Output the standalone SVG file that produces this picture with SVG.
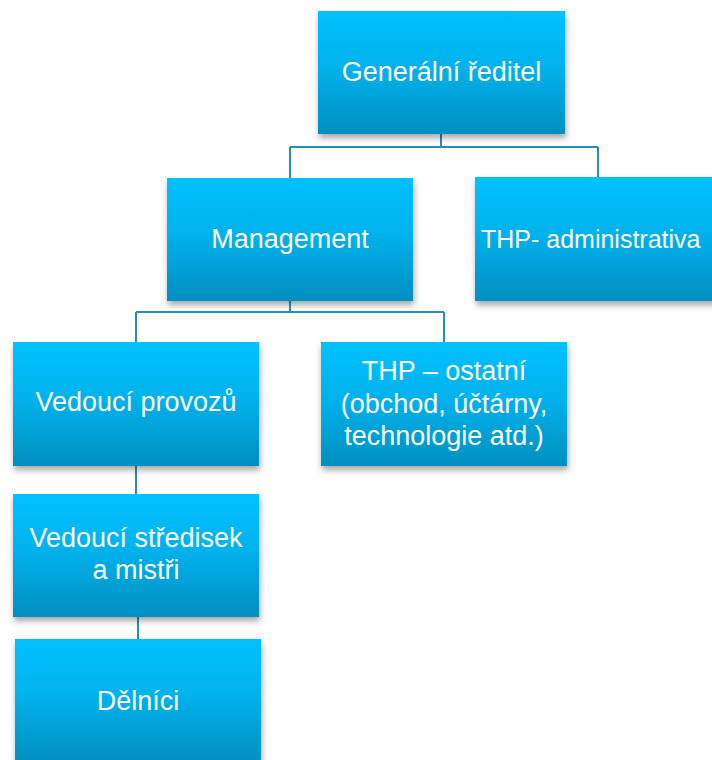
<svg xmlns="http://www.w3.org/2000/svg" width="712" height="760" viewBox="0 0 712 760">
  <defs>
    <linearGradient id="boxGrad" x1="0" y1="0" x2="0" y2="1">
      <stop offset="0" stop-color="#00C1FF"/>
      <stop offset="0.45" stop-color="#00B2EC"/>
      <stop offset="1" stop-color="#008FC0"/>
    </linearGradient>
    <filter id="shadow" x="-10%" y="-10%" width="125%" height="130%">
      <feDropShadow dx="1" dy="4" stdDeviation="3" flood-color="#000" flood-opacity="0.35"/>
    </filter>
  </defs>
  <style>
    .box { fill: url(#boxGrad); filter: url(#shadow); }
    .lbl { font-family: "Liberation Sans", Arial, sans-serif; font-size: 27px; fill: #FFFFFF; text-anchor: middle; }
    .conn { stroke: #2A8DB4; stroke-width: 2; fill: none; }
  </style>
  <rect width="712" height="760" fill="#FFFFFF"/>

  <g id="connectors">
    <path class="conn" d="M441,134 V147 M290,147 H598 M290,147 V178 M598,147 V177"/>
    <path class="conn" d="M290,301 V312 M136,312 H444 M136,312 V342 M444,312 V342"/>
    <path class="conn" d="M136,466 V494"/>
    <path class="conn" d="M138,617 V639"/>
  </g>

  <g id="generalni-reditel">
    <rect class="box" x="318" y="11" width="247" height="123"/>
    <text class="lbl" x="441.5" y="81">Generální ředitel</text>
  </g>

  <g id="management">
    <rect class="box" x="167" y="178" width="246" height="123"/>
    <text class="lbl" x="290" y="248">Management</text>
  </g>

  <g id="thp-administrativa">
    <rect class="box" x="475" y="177" width="247" height="124"/>
    <text class="lbl" x="481" y="248" style="text-anchor:start;font-size:25px">THP- administrativa</text>
  </g>

  <g id="vedouci-provozu">
    <rect class="box" x="13" y="342" width="246" height="124"/>
    <text class="lbl" x="136" y="411">Vedoucí provozů</text>
  </g>

  <g id="thp-ostatni">
    <rect class="box" x="321" y="342" width="246" height="124"/>
    <text class="lbl" x="444" y="380">THP – ostatní</text>
    <text class="lbl" x="444" y="413">(obchod, účtárny,</text>
    <text class="lbl" x="444" y="445">technologie atd.)</text>
  </g>

  <g id="vedouci-stredisek">
    <rect class="box" x="13" y="494" width="246" height="123"/>
    <text class="lbl" x="136" y="547">Vedoucí středisek</text>
    <text class="lbl" x="136" y="579">a mistři</text>
  </g>

  <g id="delnici">
    <rect class="box" x="15" y="639" width="246" height="124"/>
    <text class="lbl" x="138" y="710">Dělníci</text>
  </g>
</svg>
